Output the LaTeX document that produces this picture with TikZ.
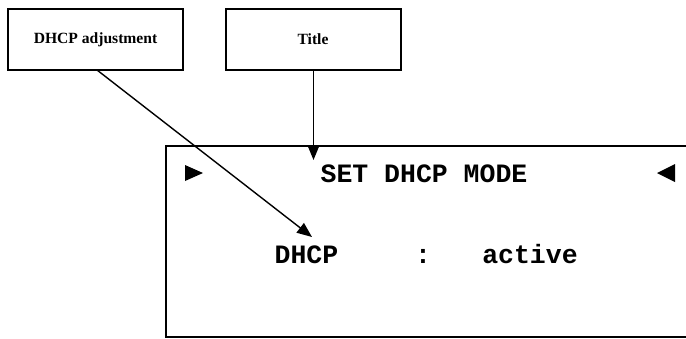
\documentclass[tikz,border=0pt]{standalone}
\usepackage{fontspec}
\setmainfont{Liberation Serif}
\newfontfamily\lcdfont{Liberation Mono}
\usetikzlibrary{arrows.meta}
\begin{document}
\begin{tikzpicture}[x=1pt,y=-1pt,
  labelbox/.style={draw,line width=2pt,minimum width=175pt,minimum height=61pt,inner sep=0pt,font=\fontsize{15.6}{18}\selectfont\bfseries},
  lcd/.style={inner sep=0pt,anchor=base,font=\lcdfont\fontsize{26.5}{30}\selectfont\bfseries},
  pointer/.style={line width=1.4pt,-{Triangle[length=15pt,width=12pt]}}]
\useasboundingbox (0,0) rectangle (686,338);
% display frame (cut off at the right edge)
\draw[line width=2pt] (686,146) -- (165.5,146) -- (165.5,337) -- (686,337);
% label boxes
\node[labelbox] (adj) at (95.5,39.5) {DHCP adjustment};
\node[labelbox] (title) at (313,39.5) {Title};
% display content
\fill (185,165) -- (203,173) -- (185,181) -- cycle;
\fill (675,164) -- (657,173) -- (675,182) -- cycle;
\node[lcd] (head) at (424,182) {SET DHCP MODE};
\node[lcd] (key) at (306.5,263) {DHCP};
\node[lcd] (colon) at (423,263) {:};
\node[lcd] (val) at (530,263) {active};
% arrows
\coordinate (ttip) at (313.5,160);
\coordinate (atip) at (312,237);
\draw[pointer] (title.south -| ttip) -- (ttip);
\draw[pointer] (97,70) -- (atip);
\end{tikzpicture}
\end{document}
